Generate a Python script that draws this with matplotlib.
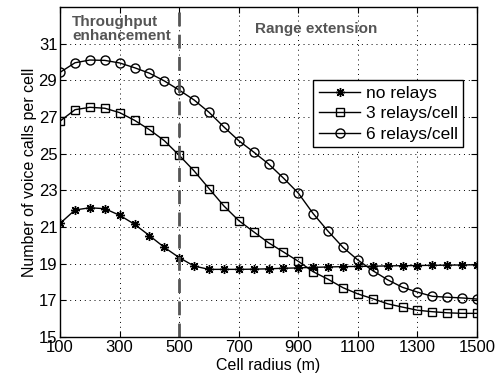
import numpy as np
import matplotlib.pyplot as plt

plt.rcParams['font.family'] = ['Liberation Sans', 'DejaVu Sans']

# Cell radius (m)
radius = list(range(100, 1501, 50))

no_relays = [21.2, 21.93, 22.05, 22.0, 21.64, 21.15, 20.53, 19.89, 19.33, 18.87,
             18.69, 18.69, 18.69, 18.7, 18.72, 18.75, 18.77, 18.8, 18.82, 18.84,
             18.85, 18.86, 18.88, 18.89, 18.9, 18.91, 18.92, 18.93, 18.94]
relays_3 = [26.78, 27.4, 27.53, 27.48, 27.24, 26.82, 26.31, 25.71, 24.91, 24.06,
            23.1, 22.15, 21.35, 20.74, 20.14, 19.64, 19.13, 18.56, 18.15, 17.69,
            17.35, 17.09, 16.81, 16.63, 16.46, 16.38, 16.32, 16.29, 16.29]
relays_6 = [29.44, 29.96, 30.11, 30.09, 29.95, 29.69, 29.39, 28.97, 28.47, 27.93,
            27.26, 26.46, 25.71, 25.09, 24.44, 23.67, 22.85, 21.73, 20.77, 19.89,
            19.2, 18.62, 18.12, 17.71, 17.45, 17.22, 17.17, 17.13, 17.07]

fig = plt.figure(figsize=(5.01, 3.81), dpi=100)
ax = fig.add_axes([0.12, 0.1155, 0.832, 0.866])

ax.plot(radius, no_relays, 'k-', marker=(8, 2, 0), markersize=6.5, lw=1,
        mew=1, label='no relays')
ax.plot(radius, relays_3, 'k-', marker='s', markersize=5.5, lw=1, mfc='none',
        mew=1, label='3 relays/cell')
ax.plot(radius, relays_6, 'k-', marker='o', markersize=6.5, lw=1, mfc='none',
        mew=1, label='6 relays/cell')

ax.axvline(500, color='#555555', lw=2, ls=(0, (5, 3)))

ax.set_xlim(100, 1500)
ax.set_ylim(15, 33)
ax.set_xticks(range(100, 1501, 200))
ax.set_yticks(range(15, 32, 2))
ax.grid(True, color='k', ls=(0, (1, 4)), lw=0.7)
ax.tick_params(direction='in', labelsize=12, top=True, right=True, length=4,
               pad=2)
for s in ax.spines.values():
    s.set_linewidth(1)

ax.set_xlabel('Cell radius (m)', fontsize=11.5, labelpad=2)
ax.set_ylabel('Number of voice calls per cell', fontsize=11.5, labelpad=1)

ax.text(0.029, 0.977, 'Throughput\nenhancement', transform=ax.transAxes,
        fontsize=11, fontweight='bold', color='#555555', va='top', ha='left',
        linespacing=1.05)
ax.text(0.614, 0.955, 'Range extension', transform=ax.transAxes,
        fontsize=11, fontweight='bold', color='#555555', va='top', ha='center')

leg = ax.legend(loc='upper right', bbox_to_anchor=(0.966, 0.778), fontsize=12.5,
                fancybox=False, edgecolor='k', framealpha=1, handlelength=2.4,
                borderpad=0.3, labelspacing=0.32, handletextpad=0.3,
                borderaxespad=0)
leg.get_frame().set_linewidth(1)

plt.savefig('out.png', dpi=100)
